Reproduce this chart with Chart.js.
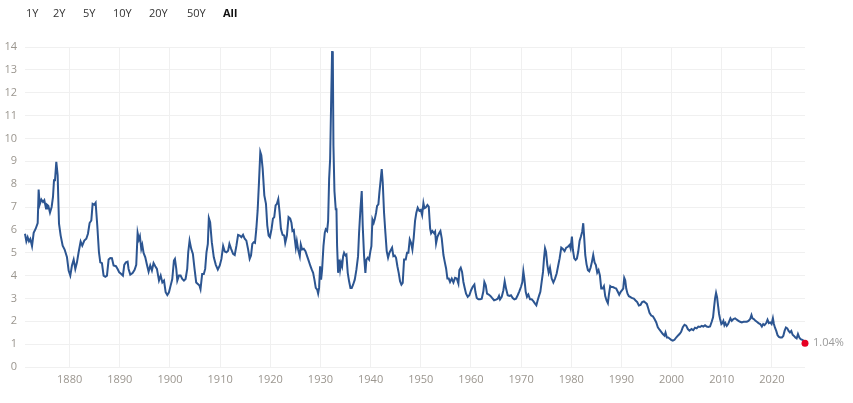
<!DOCTYPE html>
<html>
<head>
<meta charset="utf-8">
<script src="https://cdn.jsdelivr.net/npm/chart.js@4"></script>
<style>
  html, body { margin: 0; padding: 0; background: #fff; }
  body { width: 853px; height: 403px; position: relative; overflow: hidden; font-family: "Open Sans", sans-serif; }
  #btns { position: absolute; top: 4px; left: 0; height: 18px; font-size: 11px; color: #333; }
  #btns span { position: absolute; top: 0; line-height: 18px; white-space: nowrap; }
  #btns span.active { font-weight: bold; color: #111; }
  #wrap { position: absolute; left: 0; top: 0; width: 853px; height: 403px; }
</style>
</head>
<body>
<div id="wrap"><canvas id="c" width="853" height="403"></canvas></div>
<div id="btns"></div>
<script>
const rangeButtons = ["1Y", "2Y", "5Y", "10Y", "20Y", "50Y", "All"];
const activeButton = "All";
const xTickYears = [1880, 1890, 1900, 1910, 1920, 1930, 1940, 1950, 1960, 1970, 1980, 1990, 2000, 2010, 2020];
const yTickValues = [0, 1, 2, 3, 4, 5, 6, 7, 8, 9, 10, 11, 12, 13, 14];

const years = [
1871.10,1871.37,1871.63,1871.90,1872.16,1872.50,1872.83,1873.23,1873.63,1873.82,1874.02,1874.36,1874.69,1874.95,1875.29,1875.48,1875.75,1876.08,1876.41,1876.68,1876.88,1877.08,1877.34,1877.61,1877.88,1878.21,1878.61,1879.00,1879.47,1879.80,
1880.13,1880.46,1880.80,1881.13,1881.46,1881.79,1882.19,1882.52,1882.92,1883.32,1883.65,1883.98,1884.32,1884.58,1884.91,1885.18,1885.51,1885.84,1886.11,1886.44,1886.77,1887.11,1887.44,1887.77,1888.10,1888.43,1888.76,1889.23,1889.56,1889.89,
1890.29,1890.62,1890.89,1891.22,1891.55,1891.75,1892.09,1892.55,1892.95,1893.28,1893.55,1893.81,1894.01,1894.28,1894.48,1894.74,1895.08,1895.41,1895.74,1896.07,1896.40,1896.73,1897.07,1897.40,
1897.81,1898.15,1898.48,1898.81,1899.14,1899.47,1899.80,1900.13,1900.46,1900.79,1900.99,1901.26,1901.46,1901.79,1902.12,1902.45,1902.78,1903.11,1903.44,1903.64,1903.91,1904.24,1904.57,1904.90,1905.23,1905.56,1905.89,1906.09,1906.42,1906.75,1907.02,1907.28,1907.55,1907.75,1908.01,1908.34,1908.74,1909.14,1909.54,1909.93,
1910.26,1910.60,1910.93,1911.26,1911.59,1911.85,1912.19,1912.58,1912.91,1913.25,1913.58,1913.91,1914.24,1914.57,1914.90,1915.23,1915.56,1915.89,1916.16,1916.42,1916.69,1916.95,1917.22,1917.48,1917.75,1918.01,1918.21,1918.48,1918.81,1919.14,1919.40,1919.67,1919.93,
1920.26,1920.53,1920.79,1921.06,1921.32,1921.59,1921.85,1922.12,1922.45,1922.78,1922.98,1923.31,1923.64,1923.97,
1924.22,1924.42,1924.69,1924.89,1925.09,1925.29,1925.55,1925.88,1926.08,1926.35,1926.68,1927.01,1927.34,1927.68,1928.01,1928.27,1928.54,1928.80,1929.07,1929.34,1929.54,1929.73,1929.93,
1930.13,1930.33,1930.60,1930.86,1931.06,1931.33,1931.53,1931.73,1931.93,1932.12,1932.32,1932.46,1932.59,1932.79,1933.05,1933.19,1933.32,1933.52,1933.72,1933.92,1934.12,1934.32,1934.52,1934.71,1934.98,1935.18,1935.44,1935.71,1935.98,1936.24,1936.51,1936.84,1937.17,1937.50,1937.70,1937.97,1938.23,1938.43,1938.70,1938.96,1939.16,1939.43,1939.69,1939.96,
1940.16,1940.36,1940.62,1940.82,1941.09,1941.29,1941.55,1941.75,1942.02,1942.22,1942.42,1942.68,1942.95,1943.21,1943.48,1943.75,1944.01,1944.28,1944.54,1944.81,1945.07,1945.34,1945.60,1945.87,1946.14,1946.40,1946.67,1947.00,1947.26,1947.53,1947.80,1948.06,1948.33,1948.59,1948.86,1949.12,1949.39,
1949.73,1950.00,1950.27,1950.53,1950.73,1951.00,1951.33,1951.59,1951.86,1952.06,1952.32,1952.66,1952.86,1953.05,1953.32,1953.65,1953.92,1954.18,1954.52,1954.78,1955.05,1955.31,1955.58,1955.84,1956.18,1956.51,1956.84,1957.17,1957.50,1957.70,1957.97,1958.23,1958.50,1958.76,1959.03,1959.36,1959.69,
1960.03,1960.36,1960.69,1960.89,1961.16,1961.49,1961.82,1962.15,1962.48,1962.68,1962.95,1963.21,1963.55,1963.88,1964.21,1964.61,1965.01,1965.34,1965.60,1965.80,1966.14,1966.47,1966.73,1967.00,1967.33,1967.66,1967.99,1968.33,1968.66,1968.99,1969.32,1969.65,1969.99,
1970.25,1970.45,1970.65,1970.92,1971.18,1971.45,1971.78,1972.11,1972.44,1972.78,1973.04,1973.31,1973.57,1973.84,1974.10,1974.37,1974.57,1974.77,1974.97,1975.23,1975.50,1975.76,1976.10,1976.43,1976.76,1977.09,1977.42,
1977.68,1978.01,1978.34,1978.67,1979.00,1979.34,1979.67,1979.87,1980.13,1980.33,1980.60,1980.86,1981.13,1981.39,1981.66,1981.93,1982.19,1982.39,1982.59,1982.79,1983.05,1983.32,1983.59,1983.85,1984.12,1984.38,1984.65,1984.91,1985.18,1985.44,1985.71,1985.98,1986.24,1986.51,1986.77,1987.04,1987.30,1987.50,1987.77,1988.03,1988.30,1988.63,1988.96,1989.30,1989.56,1989.83,
1990.09,1990.36,1990.56,1990.76,1990.96,1991.22,1991.49,1991.82,1992.15,1992.48,1992.82,1993.15,1993.48,1993.81,1994.14,1994.48,1994.81,1995.07,1995.34,1995.60,1995.94,1996.27,1996.60,1996.93,1997.26,1997.60,1997.93,1998.26,1998.59,1998.79,1999.06,1999.32,1999.59,1999.92,
2000.25,2000.58,2000.92,2001.25,2001.58,2001.91,2002.24,2002.58,2002.91,2003.24,2003.57,
2004.00,2004.33,2004.67,2005.00,2005.33,2005.67,2006.00,2006.33,2006.67,2007.00,2007.33,2007.67,2008.00,2008.27,2008.47,2008.67,2008.87,2009.07,2009.27,2009.47,2009.67,2009.93,
2010.13,2010.33,2010.53,2010.73,2011.00,2011.27,2011.53,2011.73,2012.00,2012.33,2012.67,2013.00,2013.33,2013.67,2014.00,2014.33,2014.67,2015.00,2015.33,2015.67,2015.93,2016.13,2016.40,2016.73,2017.00,2017.33,2017.67,2018.00,2018.27,2018.53,2018.87,2019.13,2019.40,2019.67,2019.93,
2020.20,2020.40,2020.60,2020.87,2021.13,2021.40,2021.67,2022.00,2022.27,2022.53,2022.80,2023.07,2023.33,2023.60,2023.87,2024.13,2024.40,2024.67,2024.93,2025.20,2025.47,2025.73,2026.07,2026.33,2026.60
];

const yields = [
5.83,5.50,5.68,5.50,5.60,5.29,5.87,6.05,6.30,7.76,7.10,7.33,7.22,7.30,6.93,7.10,7.05,6.75,7.00,7.44,8.17,8.17,8.98,8.39,6.27,5.75,5.31,5.14,4.80,4.22,
4.00,4.44,4.70,4.29,4.58,5.02,5.49,5.31,5.53,5.61,5.83,6.30,6.41,7.14,7.10,7.19,6.19,5.02,4.58,4.54,4.00,3.95,4.00,4.70,4.77,4.76,4.44,4.41,4.29,4.14,
4.07,4.00,4.47,4.58,4.61,4.29,4.04,4.11,4.25,4.47,5.87,5.58,5.72,5.17,5.34,4.99,4.80,4.47,4.17,4.44,4.22,4.55,4.41,4.29,
3.78,4.00,3.70,3.78,3.27,3.15,3.27,3.56,3.85,4.66,4.73,4.29,3.78,4.00,4.00,3.85,3.78,3.85,4.29,5.02,5.53,5.17,4.95,4.29,3.70,3.63,3.56,3.41,4.07,4.07,4.29,5.02,5.39,6.52,6.34,5.46,4.80,4.47,4.26,4.44,
4.73,5.29,5.05,5.02,5.09,5.39,5.17,4.95,4.90,5.31,5.78,5.75,5.68,5.78,5.61,5.53,5.17,4.73,4.88,5.39,5.46,5.43,6.05,6.85,8.10,9.41,9.27,8.68,7.51,7.14,6.19,5.75,5.68,
6.05,6.49,6.56,7.07,7.14,7.34,6.78,6.05,5.78,5.75,5.43,5.75,6.56,6.49,
6.31,5.95,5.99,5.58,5.22,5.51,5.14,4.85,5.36,5.14,5.17,5.07,4.85,4.63,4.41,4.26,4.12,3.82,3.46,3.39,3.21,3.46,4.41,
3.82,4.26,5.29,5.87,6.02,5.95,6.39,8.22,9.10,11.44,13.78,13.81,9.68,7.70,6.90,6.90,5.29,4.12,4.70,4.26,4.56,4.41,4.85,5.00,4.88,4.92,4.12,3.75,3.46,3.46,3.60,3.82,4.26,4.85,5.87,6.90,7.70,6.17,4.85,4.12,4.70,4.78,4.70,5.07,
5.29,6.46,6.31,6.46,6.75,7.05,7.12,7.63,8.22,8.66,8.07,6.75,5.87,5.07,4.78,5.00,5.11,5.22,4.85,4.88,4.78,4.41,4.12,3.75,3.60,3.68,4.70,4.70,5.00,5.00,5.58,5.43,5.14,5.65,6.39,6.75,6.97,
6.83,6.87,6.65,7.17,6.95,6.98,7.09,7.02,6.07,5.85,5.95,5.85,5.92,5.41,5.70,5.85,5.95,5.63,4.90,4.60,4.31,3.87,3.87,3.72,3.87,3.70,3.90,3.87,3.65,4.24,4.34,4.16,3.72,3.46,3.21,3.07,3.14,
3.36,3.51,3.61,3.29,3.02,2.96,2.96,2.99,3.31,3.72,3.58,3.21,3.17,3.11,3.02,2.92,2.95,2.99,3.11,2.96,3.07,3.36,3.75,3.43,3.14,3.11,3.14,3.02,2.96,2.99,3.14,3.31,3.51,
3.72,4.19,3.87,3.29,3.07,3.17,2.96,2.96,2.88,2.77,2.70,2.92,3.11,3.29,3.72,4.16,4.75,5.19,5.04,4.46,4.13,4.34,3.87,3.70,3.87,4.09,4.46,
4.75,5.22,5.16,5.07,5.22,5.26,5.34,5.19,5.71,5.12,4.75,4.68,4.75,5.04,5.51,5.71,5.93,6.29,5.63,4.90,4.49,4.24,4.19,4.34,4.60,4.90,4.57,4.46,4.13,4.24,4.01,3.43,3.43,3.54,3.10,2.91,2.79,3.16,3.54,3.50,3.50,3.46,3.43,3.28,3.16,3.28,
3.35,3.43,3.90,3.79,3.43,3.21,3.10,3.06,3.01,2.99,2.91,2.84,2.69,2.72,2.84,2.87,2.81,2.76,2.57,2.37,2.25,2.22,2.10,1.96,1.74,1.63,1.54,1.44,1.37,1.51,1.29,1.29,1.25,1.19,
1.15,1.19,1.29,1.37,1.44,1.54,1.74,1.85,1.81,1.66,1.59,
1.66,1.61,1.72,1.69,1.77,1.75,1.80,1.77,1.83,1.77,1.75,1.77,1.98,2.17,2.61,3.00,3.24,3.05,2.68,2.32,2.10,1.88,
1.92,2.02,1.83,1.92,1.80,1.88,2.02,2.13,2.02,2.10,2.13,2.07,2.02,1.98,1.95,1.98,1.98,1.98,2.02,2.10,2.27,2.13,2.10,2.02,1.98,1.92,1.88,1.77,1.88,1.83,1.92,2.07,1.92,1.95,1.88,
2.13,1.88,1.73,1.58,1.39,1.32,1.29,1.29,1.36,1.58,1.73,1.69,1.58,1.51,1.58,1.41,1.36,1.29,1.25,1.44,1.29,1.22,1.19,1.15,1.04
];

const lastLabel = yields[yields.length - 1].toFixed(2) + "%";

// range buttons (HTML text)
const btnLeft = [26, 53, 83, 113, 149, 187, 223];
const btns = document.getElementById('btns');
rangeButtons.forEach((b, i) => {
  const s = document.createElement('span');
  s.textContent = b;
  s.style.left = btnLeft[i] + 'px';
  if (b === activeButton) s.className = 'active';
  btns.appendChild(s);
});

const points = years.map((x, i) => ({ x: x, y: yields[i] }));
const lastIdx = points.length - 1;

const lastLabelPlugin = {
  id: 'lastLabel',
  afterDatasetsDraw(chart) {
    const meta = chart.getDatasetMeta(0);
    const pt = meta.data[lastIdx];
    if (!pt) return;
    const ctx = chart.ctx;
    ctx.save();
    ctx.font = '11px "Open Sans", sans-serif';
    ctx.fillStyle = '#9a9a9a';
    ctx.textAlign = 'left';
    ctx.textBaseline = 'middle';
    ctx.fillText(lastLabel, pt.x + 8, pt.y);
    ctx.restore();
  }
};

Chart.defaults.font.family = '"Open Sans", sans-serif';
Chart.defaults.font.size = 11;

new Chart(document.getElementById('c'), {
  type: 'line',
  data: {
    datasets: [{
      data: points,
      borderColor: '#2c5591',
      borderWidth: 2,
      tension: 0,
      fill: false,
      clip: false,
      pointRadius: (c) => c.dataIndex === lastIdx ? 3.5 : 0,
      pointBackgroundColor: '#e60023',
      pointBorderWidth: 0,
      pointHoverRadius: 0
    }]
  },
  options: {
    responsive: false,
    animation: false,
    events: [],
    layout: { padding: { top: 47, right: 48, left: 0, bottom: 0 } },
    plugins: { legend: { display: false }, tooltip: { enabled: false } },
    scales: {
      x: {
        type: 'linear',
        min: years[0],
        max: years[years.length - 1],
        afterBuildTicks: (scale) => { scale.ticks = xTickYears.map(v => ({ value: v })); },
        afterFit: (scale) => { scale.height = 36; },
        ticks: {
          padding: 6,
          color: '#9b968f',
          maxRotation: 0,
          autoSkip: false,
          callback: (v) => String(v)
        },
        grid: { color: '#f0f0f0', lineWidth: 1, drawTicks: false },
        border: { display: false }
      },
      y: {
        min: 0,
        max: 14,
        afterBuildTicks: (scale) => { scale.ticks = yTickValues.map(v => ({ value: v })); },
        afterFit: (scale) => { scale.width = 25; },
        ticks: {
          padding: 8,
          color: '#9b968f',
          callback: (v) => String(v)
        },
        grid: { color: '#f0f0f0', lineWidth: 1, drawTicks: false },
        border: { display: false }
      }
    }
  },
  plugins: [lastLabelPlugin]
});
</script>
</body>
</html>
